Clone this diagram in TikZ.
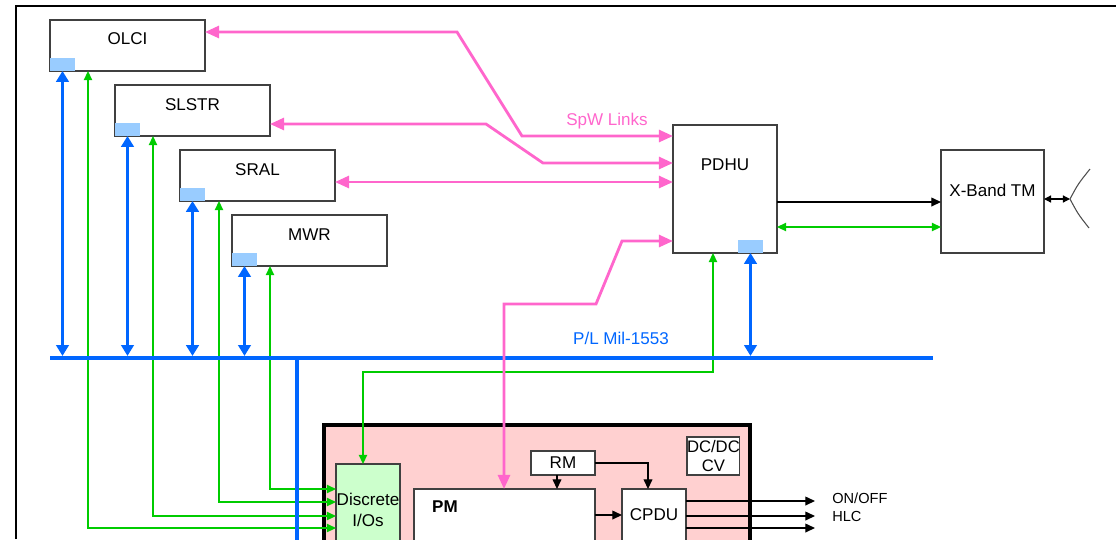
\documentclass[tikz,border=0pt]{standalone}
\usepackage{fontspec}
\setmainfont{Liberation Sans}
\usetikzlibrary{arrows.meta,calc}

\definecolor{spw}{HTML}{FF66CC}
\definecolor{milbus}{HTML}{0066FF}
\definecolor{disc}{HTML}{00CC00}
\definecolor{portblue}{HTML}{99CCFF}
\definecolor{boardpink}{HTML}{FFD0D0}
\definecolor{iogreen}{HTML}{CCFFCC}

\begin{document}
\begin{tikzpicture}[x=0.02cm, y=-0.02cm,
    font=\fontsize{9.7}{11.6}\selectfont,
    unit/.style={rectangle, draw=black!75, line width=0.7pt, fill=white,
      inner sep=0pt, outer sep=0pt, anchor=north west},
    instr/.style={unit, minimum width=3.1cm, minimum height=1.02cm},
    port/.style={rectangle, fill=portblue, inner sep=0pt, outer sep=0pt,
      anchor=north west, minimum width=0.5cm, minimum height=0.26cm},
    spwlink/.style={spw, line width=1.6pt,
      {Triangle[length=8pt,width=6.8pt]}-{Triangle[length=8pt,width=6.8pt]}},
    bus/.style={milbus, line width=2.5pt},
    busarrow/.style={milbus, line width=1.3pt, shorten >=1.2pt,
      {Triangle[length=6.2pt,width=7.2pt]}-{Triangle[length=6.2pt,width=7.2pt]}},
    ioline/.style={disc, line width=0.9pt,
      {Triangle[length=5.2pt,width=4.7pt]}-{Triangle[length=5.2pt,width=4.7pt]}},
    ctl/.style={black, line width=0.7pt, -{Triangle[length=5.5pt,width=5pt]}},
    feed/.style={black, line width=0.7pt,
      {Triangle[length=4pt,width=4pt]}-{Triangle[length=4pt,width=4pt]}},
    tag/.style={inner sep=0pt, anchor=base}]

    \useasboundingbox (0,0) rectangle (1116,539);

    % frame
    \draw[line width=1.2pt] (16,539) -- (16,6) -- (1116,6);

    % instruments
    \node[instr, label={[yshift=0.13cm]center:OLCI}] (olci) at (50,20) {};
    \node[port] (olciport) at (50,58) {};
    \node[instr, label={[yshift=0.12cm]center:SLSTR}] (slstr) at (115,85) {};
    \node[port] (slstrport) at (115,123) {};
    \node[instr, label={[yshift=0.12cm]center:SRAL}] (sral) at (180,150) {};
    \node[port] (sralport) at (180,188) {};
    \node[instr, label={[yshift=0.12cm]center:MWR}] (mwr) at (232,215) {};
    \node[port] (mwrport) at (232,253) {};

    \node[unit, minimum width=2.08cm, minimum height=2.56cm,
      label={[yshift=0.49cm]center:PDHU}] (pdhu) at (673,125) {};
    \node[port] (pdhuport) at (738,240) {};

    \node[unit, minimum width=2.06cm, minimum height=2.06cm,
      label={[yshift=0.23cm]center:X-Band TM}] (xband) at (941,150) {};

    % payload board
    \node[rectangle, draw=black, line width=2.2pt, fill=boardpink, inner sep=0pt,
      anchor=north west, minimum width=8.52cm, minimum height=2.8cm] (board) at (322,423) {};
    \node[unit, fill=iogreen, minimum width=1.28cm, minimum height=1.84cm,
      align=center, font=\fontsize{9.7}{12}\selectfont] (dio) at (336,464) {Discrete\\I/Os};
    \node[unit, minimum width=3.62cm, minimum height=1.6cm] (pm) at (414,489) {};
    \node[font=\fontsize{9.7}{11.6}\selectfont\bfseries] (pmtext) at (445,507) {PM};
    \node[unit, minimum width=1.28cm, minimum height=0.48cm] (rm) at (531,451) {RM};
    \node[unit, minimum width=1.28cm, minimum height=1.04cm] (cpdu) at (622,489) {CPDU};
    \node[unit, minimum width=1.02cm, minimum height=0.76cm, align=center,
      font=\fontsize{9.5}{11.3}\selectfont] (dcdc) at (687,437) {DC/DC\\CV};

    \draw[ctl] (rm.south -| 557,0) -- (pm.north -| 557,0);
    \draw[ctl] (rm.east) -| (cpdu.north -| 648,0);
    \draw[ctl] (pm.east |- 0,515) -- (cpdu.west |- 0,515);

    \coordinate (onoff) at (815,501);
    \coordinate (hlc) at (815,516);
    \coordinate (cmd3) at (815,528);
    \draw[ctl] (cpdu.east |- onoff) -- (onoff);
    \draw[ctl] (cpdu.east |- hlc) -- (hlc);
    \draw[ctl] (cpdu.east |- cmd3) -- (cmd3);
    \node[tag, anchor=base west, font=\fontsize{8.3}{10}\selectfont] (onofflabel) at (832,503) {ON/OFF};
    \node[tag, anchor=base west, font=\fontsize{8.3}{10}\selectfont] (hlclabel) at (832,521) {HLC};

    % discrete lines
    \draw[ioline] ($(olci.south west)+(38,0)$) |- (dio.west |- 0,528);
    \draw[ioline] ($(slstr.south west)+(38,0)$) |- (dio.west |- 0,516);
    \draw[ioline] ($(sral.south west)+(39,0)$) |- (dio.west |- 0,502);
    \draw[ioline] ($(mwr.south west)+(38,0)$) |- (dio.west |- 0,489);
    \draw[ioline] ($(dio.north west)+(27,0)$)
    |- (713,372)
    -- (713,372 |- pdhu.south);

    % Mil-1553 bus
    \coordinate (busw) at (50,358);
    \coordinate (buse) at (933,358);
    \coordinate (busdrop) at (297,358);
    \coordinate (busdown) at (297,560);
    \draw[bus] (busw) -- (buse);
    \draw[bus] (busdrop) -- (busdown);
    \node[tag, text=milbus] (buslabel) at (621,344) {P/L Mil-1553};

    \draw[busarrow] (olciport.south) -- (olciport.south |- busw);
    \draw[busarrow] (slstrport.south) -- (slstrport.south |- busw);
    \draw[busarrow, line width=1.8pt] (sralport.south) -- (sralport.south |- busw);
    \draw[busarrow] (mwrport.south) -- (mwrport.south |- busw);
    \draw[busarrow] (pdhuport.south) -- (pdhuport.south |- busw);

    % SpaceWire links
    \draw[spwlink] ($(olci.north east)+(0,12)$)
    -- (457,32)
    -- (522,136)
    -- (pdhu.west |- 0,136);
    \draw[spwlink] ($(slstr.north east)+(0,39)$)
    -- (486,124)
    -- (543,163)
    -- (pdhu.west |- 0,163);
    \draw[spwlink] ($(sral.north east)+(0,32)$)
    -- (pdhu.west |- 0,182);
    \draw[spwlink] (pdhu.west |- 0,241)
    -- (622,241)
    -- (596,304)
    -- (504,304)
    -- (pm.north -| 504,0);
    \node[tag, text=spw] (spwlabel) at (607,125) {SpW Links};

    % X-band
    \draw[ctl] (pdhu.east |- 0,202) -- (xband.west |- 0,202);
    \draw[ioline] (pdhu.east |- 0,227) -- (xband.west |- 0,227);
    \coordinate (ant) at (1070,199);
    \draw[feed] (xband.east |- ant) -- (ant);
    \draw[black!70, line width=0.6pt] (1090,169)
    .. controls (1078,184) .. (ant)
    .. controls (1078,214) .. (1089,228);

  \end{tikzpicture}
\end{document}
